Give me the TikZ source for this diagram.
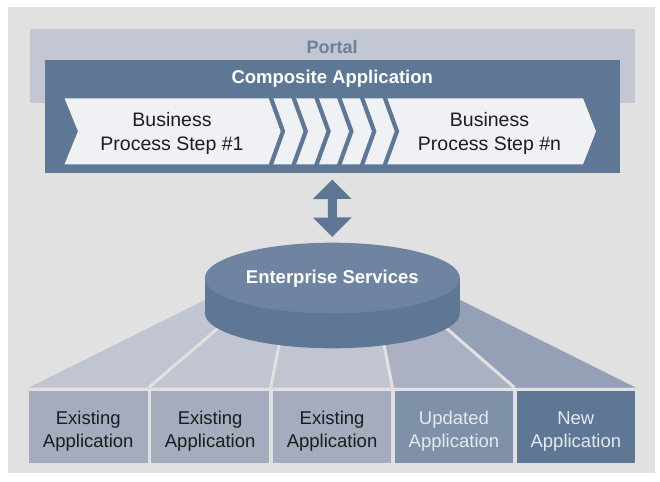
\documentclass[tikz,border=0pt]{standalone}
\usepackage{fontspec}
\setmainfont{Liberation Sans}
\usetikzlibrary{arrows.meta,calc}

\definecolor{canvasgray}{HTML}{E1E1E1}
\definecolor{portalfill}{HTML}{C3C6D3}
\definecolor{portalink}{HTML}{6B809D}
\definecolor{slateblue}{HTML}{5D7794}
\definecolor{disktop}{HTML}{6F84A0}
\definecolor{steplight}{HTML}{EFF1F5}
\definecolor{fanlight}{HTML}{C1C5D1}
\definecolor{fanmid}{HTML}{ABB1C3}
\definecolor{fandark}{HTML}{94A0B6}
\definecolor{applight}{HTML}{A4ACBE}
\definecolor{appmid}{HTML}{7F91A9}
\definecolor{inkdark}{HTML}{1C1C1C}
\definecolor{inklight}{HTML}{E6E9EE}

\begin{document}
\begin{tikzpicture}[x=1pt,y=-1pt,
  panel/.style={inner sep=0pt,outer sep=0pt,draw=none},
  headline/.style={inner sep=0pt,anchor=base,font=\bfseries\fontsize{18.5}{22}\selectfont},
  steptext/.style={inner sep=0pt,align=center,text=inkdark,font=\fontsize{19.5}{24.5}\selectfont},
  appbox/.style={panel,minimum width=118.5pt,minimum height=72.5pt},
  apptext/.style={inner sep=0pt,align=center,font=\fontsize{18.5}{23.3}\selectfont},
  divider/.style={canvasgray,line width=3pt},
  chevronline/.style={slateblue,line width=4.2pt,miter limit=10},
  linkarrow/.style={slateblue,line width=9pt,
    {Triangle[length=19.5pt,width=37.5pt]}-{Triangle[length=19.5pt,width=37.5pt]}}
]
\useasboundingbox (0,0) rectangle (660,481);
\fill[white] (0,0) rectangle (660,481);
\fill[canvasgray] (8,7) rectangle (655,473);

% Portal band and composite application frame
\node[panel,fill=portalfill,minimum width=605.2pt,minimum height=73.4pt] (portal) at (332.1,66) {};
\node[headline,text=portalink,font=\bfseries\fontsize{18}{22}\selectfont] (portaltitle) at (332.1,53.3) {Portal};
\node[panel,fill=slateblue,minimum width=574.5pt,minimum height=112.7pt] (composite) at (332.25,116.35) {};
\node[headline,text=white] (compositetitle) at (332.25,84) {Composite Application};

% Process steps: one light band cut by chevron strokes
\fill[steplight] (64.5,98.3) -- (583,98.3) -- (596,131.3) -- (583,164.3)
  -- (64.5,164.3) -- (78,131.3) -- cycle;
\begin{scope}
  \clip (40,98.3) rectangle (620,164.3);
  \foreach \k in {0,...,5}{
    \draw[chevronline] ({268+22.8*\k},90) -- ({268+22.8*\k+15},131.3) -- ({268+22.8*\k},172.6);
  }
\end{scope}
\node[steptext] (step1) at (172,133.3) {Business\\Process Step \#1};
\node[steptext] (stepn) at (489.5,133.3) {Business\\Process Step \#n};

% Fan from the services layer down to the applications
\fill[fanlight] (29,387.5) -- (205,300) -- (460,300) -- (635.5,387.5) -- cycle;
\fill[fanmid] (392.5,387.5) -- (375,300) -- (414,300) -- (514.4,387.5) -- cycle;
\fill[fandark] (514.4,387.5) -- (414,300) -- (460,300) -- (635.5,387.5) -- cycle;
\draw[divider] (148.7,387.5) -- (251,300);
\draw[divider] (270.6,387.5) -- (288,300);
\draw[divider] (392.5,387.5) -- (375,300);
\draw[divider] (514.4,387.5) -- (414,300);

% Enterprise services disk
\fill[slateblue] (332.3,313) ellipse [x radius=127.5, y radius=35.3];
\fill[slateblue] (204.8,278) rectangle (459.8,313);
\fill[disktop] (332.3,278) ellipse [x radius=127.5, y radius=35.3];
\coordinate (estop) at (332.3,242.7);
\node[headline,text=white] (services) at (332.3,283.3) {Enterprise Services};

% Link between the composite application and the services
\draw[linkarrow,shorten <=6.8pt,shorten >=5.7pt] (composite.south) -- (estop);

% Applications
\node[appbox,fill=applight] (app1) at (88.25,426.75) {};
\node[appbox,fill=applight] (app2) at (210.15,426.75) {};
\node[appbox,fill=applight] (app3) at (332.05,426.75) {};
\node[appbox,fill=appmid] (app4) at (453.95,426.75) {};
\node[appbox,fill=slateblue] (app5) at (575.85,426.75) {};
\node[apptext,text=inkdark] (app1text) at ($(app1.center)+(0,4.8)$) {Existing\\Application};
\node[apptext,text=inkdark] (app2text) at ($(app2.center)+(0,4.8)$) {Existing\\Application};
\node[apptext,text=inkdark] (app3text) at ($(app3.center)+(0,4.8)$) {Existing\\Application};
\node[apptext,text=inklight] (app4text) at ($(app4.center)+(0,4.8)$) {Updated\\Application};
\node[apptext,text=inklight] (app5text) at ($(app5.center)+(0,4.8)$) {New\\Application};
\end{tikzpicture}
\end{document}
